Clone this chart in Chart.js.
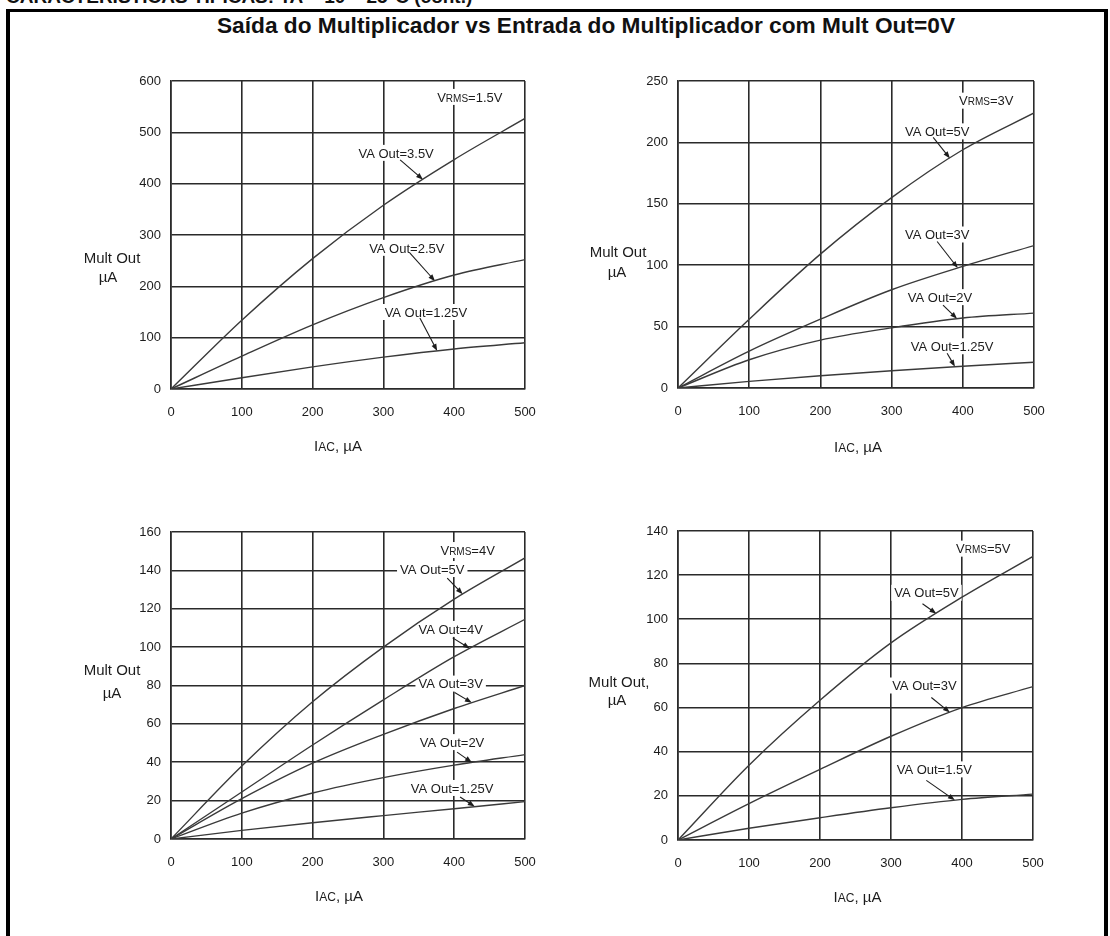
<!DOCTYPE html>
<html lang="pt">
<head>
<meta charset="utf-8">
<title>Saída do Multiplicador vs Entrada do Multiplicador</title>
<script src="https://cdn.jsdelivr.net/npm/chart.js@4.4.1/dist/chart.umd.min.js"></script>
<style>
  html, body { margin: 0; padding: 0; background: #fff; }
  #page { position: relative; width: 1110px; height: 936px; overflow: hidden; background: #fff;
          font-family: "Liberation Sans", Arial, sans-serif; color: #111; }
  #section { position: absolute; left: 6px; top: -14px; font-weight: bold; font-size: 19px; line-height: 22px; white-space: nowrap; }
  #frame { position: absolute; left: 6px; top: 9px; width: 1102px; height: 1000px; box-sizing: border-box;
           border-left: 4px solid #000; border-top: 3px solid #000; border-right: 4px solid #000; }
  #title { position: absolute; left: 586px; top: 13px; transform: translateX(-50%); font-weight: bold;
           font-size: 22.7px; line-height: 24px; white-space: nowrap; }
  .panel { position: absolute; width: 500px; height: 420px; }
  .panel canvas { display: block; }
</style>
</head>
<body>
<div id="page">
  <div id="section">CARACTERÍSTICAS TÍPICAS: TA = 10 – 25°C (cont.)</div>
  <div id="frame"></div>
  <div id="title">Saída do Multiplicador vs Entrada do Multiplicador com Mult Out=0V</div>
  <div class="panel" style="left:60px;top:60px"><canvas id="c1" width="500" height="420"></canvas></div>
  <div class="panel" style="left:570px;top:60px"><canvas id="c2" width="500" height="420"></canvas></div>
  <div class="panel" style="left:60px;top:511px"><canvas id="c3" width="500" height="420"></canvas></div>
  <div class="panel" style="left:570px;top:510px"><canvas id="c4" width="500" height="420"></canvas></div>
</div>
<script>
// IAC input current (µA) shared by every curve
const iac = [0, 100, 200, 300, 400, 500];

// axis text
const xTitle = ['I', 'AC', ', µA'];
const yTitle = ['Mult Out', 'µA'];
const yTitleComma = ['Mult Out,', 'µA'];

// VRMS = 1.5 V
const p1YTicks = [0, 100, 200, 300, 400, 500, 600];
const p1Vrms = ['V', 'RMS', '=1.5V'];
const p1Names = ['VA Out=3.5V', 'VA Out=2.5V', 'VA Out=1.25V'];
const p1Va350 = [0, 134, 254, 358, 447, 527];
const p1Va250 = [0, 64, 125, 178, 222, 252];
const p1Va125 = [0, 22, 43, 62, 78, 90];

// VRMS = 3 V
const p2YTicks = [0, 50, 100, 150, 200, 250];
const p2Vrms = ['V', 'RMS', '=3V'];
const p2Names = ['VA Out=5V', 'VA Out=3V', 'VA Out=2V', 'VA Out=1.25V'];
const p2Va500 = [0, 56, 109, 155, 194, 224];
const p2Va300 = [0, 30, 56, 80, 99, 116];
const p2Va200 = [0, 23, 39, 49, 57, 61];
const p2Va125 = [0, 5.4, 10, 14, 17.7, 21];

// VRMS = 4 V
const p3YTicks = [0, 20, 40, 60, 80, 100, 120, 140, 160];
const p3Vrms = ['V', 'RMS', '=4V'];
const p3Names = ['VA Out=5V', 'VA Out=4V', 'VA Out=3V', 'VA Out=2V', 'VA Out=1.25V'];
const p3Va500 = [0, 38, 71.5, 100, 125, 146.5];
const p3Va400 = [0, 24.5, 49, 72.5, 95, 114.5];
const p3Va300 = [0, 21, 39.5, 54.5, 68, 80];
const p3Va200 = [0, 13.5, 24, 32, 38.5, 44];
const p3Va125 = [0, 4.5, 8.5, 12.2, 15.8, 19.5];

// VRMS = 5 V
const p4YTicks = [0, 20, 40, 60, 80, 100, 120, 140];
const p4Vrms = ['V', 'RMS', '=5V'];
const p4Names = ['VA Out=5V', 'VA Out=3V', 'VA Out=1.5V'];
const p4Va500 = [0, 33.9, 63.3, 89.3, 110, 128.5];
const p4Va300 = [0, 16.5, 32, 47, 60, 69.5];
const p4Va150 = [0, 5.3, 10.1, 14.6, 18.4, 20.8];

const FONT = '"Liberation Sans", Arial, sans-serif';
const INK = '#1c1c1c';
const GRID = '#2a2a2a';
const CURVE = '#3a3a3a';

// Layout of each panel: chart-area insets in the canvas, label anchors in data units,
// arrow start offsets in px from the label centre, arrow target as an IAC value on the curve.
const panels = [
  { id: 'c1', ticks: p1YTicks, series: [p1Va350, p1Va250, p1Va125], names: p1Names, vrms: p1Vrms,
    yText: yTitle, inset: { left: 111, top: 21, right: 35, bottom: 91 },
    vrmsAt: [422, 569],
    notes: [ { at: [318, 460], from: [4, 7], to: 356 },
             { at: [333, 275], from: [3, 5], to: 373 },
             { at: [360, 150], from: [-6, 6], to: 376 } ],
    yTitleAt: { dx: [-59, -63], dy: [177, 196] }, xTitleAt: { dx: -10, dy: 57 } },
  { id: 'c2', ticks: p2YTicks, series: [p2Va500, p2Va300, p2Va200, p2Va125], names: p2Names, vrms: p2Vrms,
    yText: yTitle, inset: { left: 108, top: 21, right: 36, bottom: 92 },
    vrmsAt: [433, 234],
    notes: [ { at: [364, 209], from: [-4, 6], to: 382 },
             { at: [364, 125], from: [0, 7], to: 393 },
             { at: [368, 74], from: [3, 8], to: 392 },
             { at: [385, 34], from: [-5, 7], to: 389 } ],
    yTitleAt: { dx: [-60, -61], dy: [171, 191] }, xTitleAt: { dx: 2, dy: 59 } },
  { id: 'c3', ticks: p3YTicks, series: [p3Va500, p3Va400, p3Va300, p3Va200, p3Va125], names: p3Names, vrms: p3Vrms,
    yText: yTitle, inset: { left: 111, top: 21, right: 35, bottom: 92 },
    vrmsAt: [419, 150.6],
    notes: [ { at: [369, 140.7], from: [15, 9], to: 412 },
             { at: [395, 109.5], from: [2, 9], to: 422 },
             { at: [395, 81], from: [4, 9], to: 425 },
             { at: [397, 50.5], from: [5, 10], to: 425 },
             { at: [397, 26.6], from: [8, 9], to: 429 } ],
    yTitleAt: { dx: [-59, -59], dy: [138, 161] }, xTitleAt: { dx: -9, dy: 57 } },
  { id: 'c4', ticks: p4YTicks, series: [p4Va500, p4Va300, p4Va150], names: p4Names, vrms: p4Vrms,
    yText: yTitleComma, inset: { left: 108, top: 21, right: 37, bottom: 90 },
    vrmsAt: [430, 132],
    notes: [ { at: [350, 112], from: [-4, 11], to: 364 },
             { at: [347, 70], from: [7, 12], to: 383 },
             { at: [361, 32], from: [-8, 11], to: 390 } ],
    yTitleAt: { dx: [-59, -61], dy: [151, 169] }, xTitleAt: { dx: 2, dy: 57 } }
];

// draws text made of runs with different sizes, centred on (cx, cy); returns its width
function drawRuns(ctx, runs, sizes, cx, cy, measureOnly) {
  let w = 0;
  runs.forEach((r, i) => { ctx.font = sizes[i] + 'px ' + FONT; w += ctx.measureText(r).width; });
  if (measureOnly) return w;
  const base = cy + sizes[0] * 0.36;
  let x = cx - w / 2;
  ctx.textAlign = 'left';
  ctx.textBaseline = 'alphabetic';
  runs.forEach((r, i) => {
    ctx.font = sizes[i] + 'px ' + FONT;
    ctx.fillText(r, x, base);
    x += ctx.measureText(r).width;
  });
  return w;
}

// value of a series at an arbitrary IAC by linear interpolation between samples
function valueAt(values, xv) {
  for (let i = 1; i < iac.length; i++) {
    if (xv <= iac[i]) {
      const t = (xv - iac[i - 1]) / (iac[i] - iac[i - 1]);
      return values[i - 1] + t * (values[i] - values[i - 1]);
    }
  }
  return values[values.length - 1];
}

function whiteBox(ctx, cx, cy, w) {
  ctx.fillStyle = '#fff';
  ctx.fillRect(cx - w / 2 - 3, cy - 8, w + 6, 16);
}

function arrow(ctx, x0, y0, x1, y1) {
  const ang = Math.atan2(y1 - y0, x1 - x0);
  const len = 7, half = 2.6;
  ctx.strokeStyle = INK;
  ctx.fillStyle = INK;
  ctx.lineWidth = 1.1;
  ctx.beginPath();
  ctx.moveTo(x0, y0);
  ctx.lineTo(x1 - Math.cos(ang) * len * 0.6, y1 - Math.sin(ang) * len * 0.6);
  ctx.stroke();
  ctx.beginPath();
  ctx.moveTo(x1, y1);
  ctx.lineTo(x1 - Math.cos(ang) * len - Math.sin(ang) * half, y1 - Math.sin(ang) * len + Math.cos(ang) * half);
  ctx.lineTo(x1 - Math.cos(ang) * len + Math.sin(ang) * half, y1 - Math.sin(ang) * len - Math.cos(ang) * half);
  ctx.closePath();
  ctx.fill();
}

function makeLayer(p) {
  return {
    id: 'curveNotes',
    beforeDatasetsDraw(chart) {
      const { ctx, scales: { x, y } } = chart;
      ctx.save();
      // VRMS heading of the panel
      const vx = x.getPixelForValue(p.vrmsAt[0]), vy = y.getPixelForValue(p.vrmsAt[1]);
      const vs = [13, 10, 13];
      const vw = drawRuns(ctx, p.vrms, vs, vx, vy, true);
      whiteBox(ctx, vx, vy, vw);
      ctx.fillStyle = INK;
      drawRuns(ctx, p.vrms, vs, vx, vy);
      // curve labels with pointer arrows
      p.notes.forEach((n, i) => {
        const cx = x.getPixelForValue(n.at[0]), cy = y.getPixelForValue(n.at[1]);
        const w = drawRuns(ctx, [p.names[i]], [13], cx, cy, true);
        whiteBox(ctx, cx, cy, w);
        ctx.fillStyle = INK;
        drawRuns(ctx, [p.names[i]], [13], cx, cy);
        const tx = x.getPixelForValue(n.to), ty = y.getPixelForValue(valueAt(p.series[i], n.to));
        arrow(ctx, cx + n.from[0], cy + n.from[1], tx, ty);
      });
      ctx.restore();
    },
    afterDraw(chart) {
      const { ctx, chartArea: a } = chart;
      ctx.save();
      ctx.fillStyle = INK;
      drawRuns(ctx, [p.yText[0]], [15], a.left + p.yTitleAt.dx[0], a.top + p.yTitleAt.dy[0]);
      drawRuns(ctx, [p.yText[1]], [15], a.left + p.yTitleAt.dx[1], a.top + p.yTitleAt.dy[1]);
      drawRuns(ctx, xTitle, [15, 12, 15], (a.left + a.right) / 2 + p.xTitleAt.dx, a.bottom + p.xTitleAt.dy);
      ctx.restore();
    }
  };
}

panels.forEach(p => {
  const datasets = p.series.map((vals, i) => ({
    label: p.names[i],
    data: iac.map((xv, k) => ({ x: xv, y: vals[k] })),
    borderColor: CURVE,
    borderWidth: 1.4,
    pointRadius: 0,
    fill: false,
    cubicInterpolationMode: 'monotone'
  }));
  new Chart(document.getElementById(p.id), {
    type: 'line',
    data: { datasets },
    plugins: [makeLayer(p)],
    options: {
      responsive: false,
      animation: false,
      events: [],
      layout: { padding: { left: 0, top: p.inset.top, right: p.inset.right, bottom: 0 } },
      plugins: { legend: { display: false }, tooltip: { enabled: false }, title: { display: false } },
      scales: {
        x: {
          type: 'linear', min: 0, max: 500,
          afterBuildTicks: s => { s.ticks = iac.map(v => ({ value: v })); },
          afterFit: s => { s.height = p.inset.bottom; },
          grid: { color: GRID, lineWidth: 1.6, drawTicks: false },
          border: { display: true, color: GRID, width: 1.6 },
          ticks: { color: INK, padding: 16, maxRotation: 0, font: { family: FONT, size: 13 } }
        },
        y: {
          type: 'linear', min: 0, max: p.ticks[p.ticks.length - 1],
          afterBuildTicks: s => { s.ticks = p.ticks.map(v => ({ value: v })); },
          afterFit: s => { s.width = p.inset.left; },
          grid: { color: GRID, lineWidth: 1.6, drawTicks: false },
          border: { display: true, color: GRID, width: 1.6 },
          ticks: { color: INK, padding: 10, font: { family: FONT, size: 13 } }
        }
      }
    }
  });
});
</script>
</body>
</html>
